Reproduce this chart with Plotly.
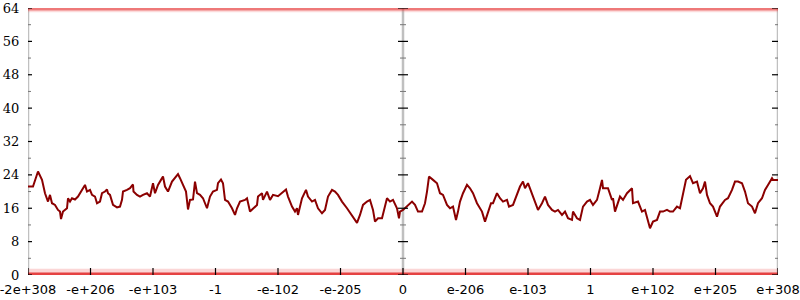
import plotly.graph_objects as go

# x positions are bin indices (0..750), values are counts
bins = [0,5,10,14,17,20,22,24,27,30,32,33,35,39,40,42,44,47,50,54,57,59,62,64,67,69,72,74,77,79,80,82,85,89,92,94,95,99,102,105,105.5,109,112,115,119,122,125,127,130,133,135,137,140,144,147,150,152,155,158,160,162,165,167,169,172,175,179,182,185,189,190,193,195,197,200,204,207,209,212,217,219,222,225,229,230,234,235,239,242,245,250,254,258,260,264,267,269,270,274,278,280,284,287,290,294,297,300,304,307,310,314,319,324,329,332,335,339,342,345,347,350,354,359,362,365,369,371,372,375,379,382,384,387,390,394,397,399,401,405,409,412,415,419,422,425,428,430,432,435,439,442,445,449,454,457,460,463,465,469,472,475,479,481,485,489,492,495,497,500,504,507,510,514,517,520,524,527,530,534,537,540,544,545,549,552,555,559,562,565,569,572,574,575,580,584,585,587,590,592,595,599,604,605,610,614,617,620,622,625,629,632,635,639,642,645,649,652,655,658,662,665,669,672,675,677,679,682,685,689,692,697,700,704,707,710,714,717,720,724,727,730,734,737,740,744,745,750]
counts = [21.2,21.2,24.8,22.8,19.6,17.6,19.2,17.2,16.8,15.6,15.2,13.4,15.2,16,18.4,17.6,18.4,18.1,18.8,20.4,21.6,20,20.4,19.2,18.8,17.2,17.6,19.6,20,20.5,19.6,19.2,16.8,16.2,16.4,18,20,20.4,20.8,21.7,20,19.2,18.8,19.2,19.6,18.8,22,19.6,21.6,22.8,23.6,21.2,20,22.4,23.2,24.2,23.2,21.6,20,15.7,18,18.1,22.4,19.6,19.2,18.4,16,18.8,20,20.4,22,22.9,22,18,17.6,16,14.4,16,17.6,18,18.4,15.2,16,16.8,18.8,19.6,18,20,18,19.2,18.9,19.6,20.5,18.8,16.4,15.2,16,14.4,18.4,20.4,18.8,17.6,18,16,14.8,15.6,18.8,20.4,20,19.2,17.6,16,14.4,12.5,14.4,16.8,17.6,18,15.6,12.8,13.6,13.6,18.4,17.6,18,16,13.6,15.2,15.6,16.4,17.2,17.6,16.8,15.2,15.2,17.2,20,23.6,22.8,22,19.6,19.2,16.8,16,16.4,13.2,15.2,17.6,19.6,21.6,20.8,19.6,17.2,15.2,12.8,14.8,17.2,17.2,19.6,18.4,17.6,18,16.4,16.8,19.6,21.2,22.4,20.8,22,19.6,17.6,15.6,17.2,18.8,16.8,15.6,15.2,15.6,14.4,15.2,13.6,13.2,15.2,13.6,13.2,16.4,17.6,18,16.8,18,20.8,22.8,20.8,20.8,18,18.4,15.2,17.2,18.8,18,19.6,20.8,17.2,17.6,15.2,15.6,12.8,11.2,12.8,13.2,15.2,15.2,15.6,15.2,15.2,16.4,16,19.6,22.8,23.7,22,22.4,19.6,20.8,22.4,19.2,17.2,16.4,14,16.4,18,18.4,20.4,22.4,22.4,22,20,17.2,16.4,14.8,17.2,18.4,20.4,21.6,23.2,22.8,22.8]

tick_labels = ["-2e+308","-e+206","-e+103","-1","-e-102","-e-205","0",
               "e-206","e-103","1","e+102","e+205","e+308"]
y_ticks = [0,8,16,24,32,40,48,56,64]
y_minor = [4,12,20,28,36,44,52,60]
x_max = 750
tick_pos = [i*x_max/12 for i in range(13)]

fig = go.Figure()

# faded red bands at 0 and 64
fig.add_trace(go.Scatter(x=[0,x_max,x_max,0], y=[0,0,1.5,1.5], fill="toself",
                         fillcolor="rgba(240,90,90,0.25)", line=dict(width=0),
                         mode="lines", hoverinfo="skip", showlegend=False))
fig.add_trace(go.Scatter(x=[0,x_max,x_max,0], y=[63.0,63.0,64,64], fill="toself",
                         fillcolor="rgba(240,90,90,0.22)", line=dict(width=0),
                         mode="lines", hoverinfo="skip", showlegend=False))
fig.add_trace(go.Scatter(x=[0,x_max], y=[0.25,0.25], mode="lines",
                         line=dict(color="rgba(225,40,40,0.85)", width=3),
                         hoverinfo="skip", showlegend=False))
fig.add_trace(go.Scatter(x=[0,x_max], y=[63.7,63.7], mode="lines",
                         line=dict(color="rgba(225,40,40,0.55)", width=2.5),
                         hoverinfo="skip", showlegend=False))

fig.add_trace(go.Scatter(x=bins, y=counts, mode="lines",
                         line=dict(color="#8b0000", width=2),
                         showlegend=False))

shapes = []
axis_gray = "#c0c0c0"
for xa in [0, x_max/2, x_max]:
    shapes.append(dict(type="line", xref="x", yref="y", x0=xa, x1=xa, y0=0, y1=64,
                       line=dict(color=axis_gray, width=2.5), layer="below"))
# tick marks on three vertical axes
for xa, (lo, hi, mlo, mhi) in zip([0, x_max/2, x_max],
                                  [(-5, 4, -3, 3), (-5, 5, -3, 3), (-6, 5, -3, 3)]):
    for yv in y_ticks:
        shapes.append(dict(type="line", xref="x", yref="y", xsizemode="pixel",
                           xanchor=xa, x0=lo, x1=hi, y0=yv, y1=yv,
                           line=dict(color="black", width=1.2)))
    for yv in y_minor:
        shapes.append(dict(type="line", xref="x", yref="y", xsizemode="pixel",
                           xanchor=xa, x0=mlo, x1=mhi, y0=yv, y1=yv,
                           line=dict(color="#777", width=1)))
# x ticks (inside, upward)
for xv in tick_pos:
    shapes.append(dict(type="line", xref="x", yref="y", ysizemode="pixel",
                       yanchor=0, x0=xv, x1=xv, y0=0, y1=7,
                       line=dict(color="black", width=1.2)))

fig.update_layout(
    width=800, height=300,
    margin=dict(l=28, r=22, t=8, b=25),
    paper_bgcolor="white", plot_bgcolor="white",
    shapes=shapes,
    xaxis=dict(range=[0, x_max], tickvals=tick_pos, ticktext=tick_labels,
               showgrid=False, zeroline=False, showline=False, ticks="",
               ticklabelstandoff=5, automargin=False, ticklabeloverflow="allow",
               tickfont=dict(family="DejaVu Sans", size=13, color="black")),
    yaxis=dict(range=[0, 64], tickvals=y_ticks, showgrid=False, zeroline=False,
               showline=False, ticks="outside", ticklen=5, tickcolor="rgba(0,0,0,0)",
               automargin=False, ticklabeloverflow="allow",
               tickfont=dict(family="DejaVu Serif", size=13, color="black")),
)

fig.write_html("out.html")
